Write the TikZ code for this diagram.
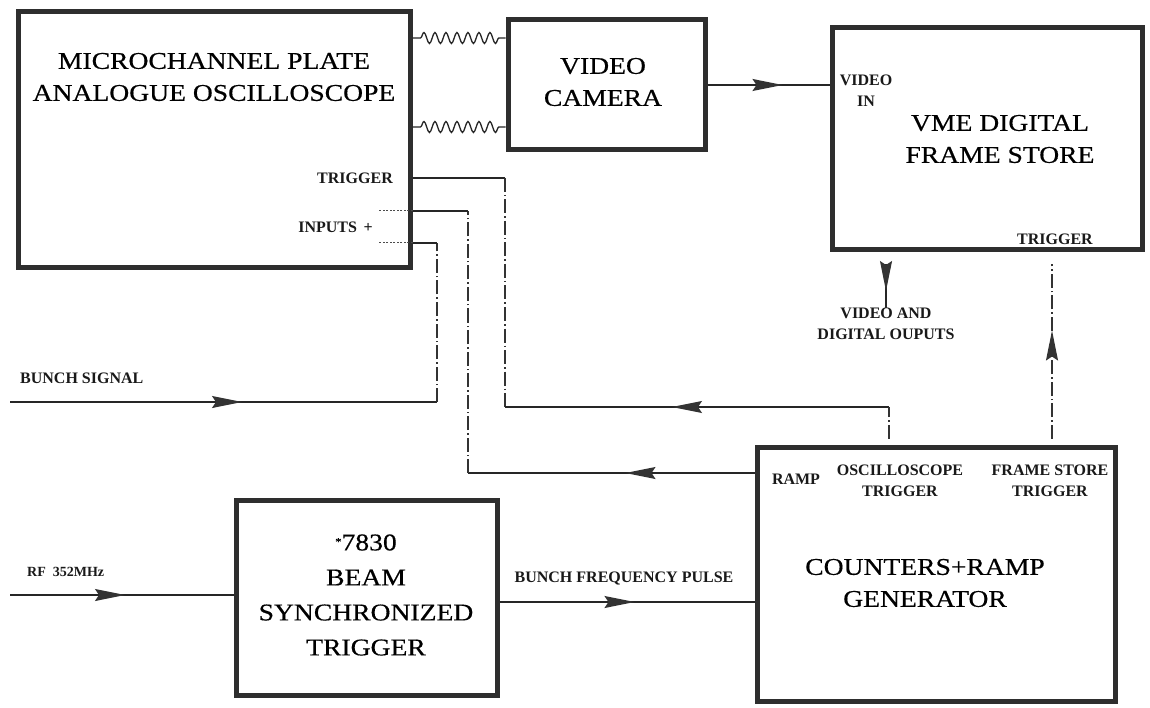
\documentclass[tikz,border=0pt]{standalone}
\usepackage{fontspec}
\setmainfont{Liberation Serif}
\newfontfamily\bigfam[FakeStretch=1.15,FakeBold=0.5]{Liberation Serif}
\usetikzlibrary{arrows.meta,decorations.pathmorphing,decorations.markings}
\tikzset{
  box/.style={draw=black!82, line width=5pt, inner sep=0pt},
  bigtxt/.style={font=\bigfam\fontsize{24}{32}\selectfont, align=center, inner sep=0pt},
  lbl/.style={font=\bfseries\fontsize{16}{21}\selectfont, align=center, inner sep=0pt, text=black!90},
  conn/.style={line width=1.3pt, draw=black!85},
  dd/.style={line width=1.1pt, draw=black!80, dash pattern=on 14pt off 3pt on 1.5pt off 3pt},
  stub/.style={line width=1pt, draw=black!70, dash pattern=on 2pt off 1.5pt},
  wavy/.style={conn, decorate, decoration={snake, amplitude=5.5pt, segment length=11pt, pre length=8pt, post length=3pt}},
  midarr/.style={postaction={decorate}, decoration={markings, mark=at position #1 with {\arrow{Stealth[length=30pt,width=12pt,inset=4pt,color=black!80,fill=black!80]}}}},
}
\begin{document}
\begin{tikzpicture}[x=1pt,y=-1pt]
\useasboundingbox[fill=white] (0,0) rectangle (1150,708);

% boxes
\node[box, minimum width=392pt, minimum height=256pt] (osc) at (214,140) {};
\node[box, minimum width=197pt, minimum height=130pt] (cam) at (606.5,85) {};
\node[box, minimum width=310pt, minimum height=222pt] (fs) at (987,139) {};
\node[box, minimum width=261pt, minimum height=195pt] (bst) at (366.5,597.5) {};
\node[box, minimum width=358pt, minimum height=254pt] (crg) at (936,574) {};

% main texts
\node[bigtxt] (osct) at (214,77) {MICROCHANNEL PLATE\\ANALOGUE OSCILLOSCOPE};
\node[bigtxt] (camt) at (603,82) {VIDEO\\CAMERA};
\node[bigtxt] (fst) at (1000,139) {VME DIGITAL\\FRAME STORE};
\node[bigtxt, font=\bigfam\fontsize{24}{35}\selectfont] (bstt) at (366,595) {\raisebox{5pt}{\fontsize{11}{11}\selectfont *}7830\\BEAM\\SYNCHRONIZED\\TRIGGER};
\node[bigtxt] (crgt) at (925,583) {COUNTERS+RAMP\\GENERATOR};

% small labels
\node[lbl, anchor=east] (osctrig) at (393,178) {TRIGGER};
\node[lbl, anchor=east] (inp) at (373,227) {INPUTS \,+};
\node[lbl] (vin) at (866,91) {VIDEO\\IN};
\node[lbl] (fstrig) at (1055,239) {TRIGGER};
\node[lbl] (vout) at (886,324) {VIDEO AND\\DIGITAL OUPUTS};
\node[lbl] (ramp) at (796,479) {RAMP};
\node[lbl] (otrig) at (900,481) {OSCILLOSCOPE\\TRIGGER};
\node[lbl] (ftrig) at (1050,481) {FRAME STORE\\TRIGGER};
\node[lbl, anchor=west] (bsl) at (20,378) {BUNCH SIGNAL};
\node[lbl, anchor=west, font=\bfseries\fontsize{14}{16}\selectfont] (rfl) at (27,572) {RF\ \ 352MHz};
\node[lbl] (bfl) at (624,578) {BUNCH FREQUENCY PULSE};

% helper coordinates
\coordinate (w1) at (0,38);
\coordinate (w2) at (0,127);
\coordinate (in1) at (0,211);
\coordinate (in2) at (0,243);
\coordinate (ot1) at (505,407);
\coordinate (ot2) at (889,407);
\coordinate (rp) at (468,473);
\coordinate (bs) at (10,402);
\coordinate (bsc) at (437,402);
\coordinate (rf) at (10,595);
\coordinate (bf) at (0,602);
\coordinate (ft) at (1052,0);
\coordinate (vo) at (0,264);

% wavy optical links
\draw[wavy] (osc.east |- w1) -- (cam.west |- w1);
\draw[wavy] (osc.east |- w2) -- (cam.west |- w2);

% camera to frame store
\draw[conn, midarr=75pt] (cam.east) -- (cam.east -| fs.west);

% video outputs
\draw[conn, midarr=27pt] (vout.north |- vo) -- (vout.north);

% frame store trigger
\draw[dd, midarr=114pt, shorten <=6pt, shorten >=12pt] (crg.north -| ft) -- (fs.south -| ft);

% oscilloscope trigger
\draw[conn] (osc.east |- osctrig) -- (ot1 |- osctrig);
\draw[dd] (ot1 |- osctrig) -- (ot1);
\draw[conn, midarr=217pt] (ot2) -- (ot1);
\draw[dd, shorten <=6pt] (crg.north -| ot2) -- (ot2);

% ramp to input 1
\draw[conn, midarr=129pt] (crg.west |- rp) -- (rp);
\draw[dd] (rp) -- (rp |- in1);
\draw[conn] (rp |- in1) -- (osc.east |- in1);
\draw[stub] (osc.east |- in1) -- ++(-34,0);

% bunch signal to input 2
\draw[conn, midarr=232pt] (bs) -- (bsc);
\draw[dd] (bsc) -- (bsc |- in2);
\draw[conn] (bsc |- in2) -- (osc.east |- in2);
\draw[stub] (osc.east |- in2) -- ++(-34,0);

% RF input
\draw[conn, midarr=115pt] (rf) -- (bst.west |- rf);

% bunch frequency pulse
\draw[conn, midarr=135pt] (bst.east |- bf) -- (crg.west |- bf);
\end{tikzpicture}
\end{document}
